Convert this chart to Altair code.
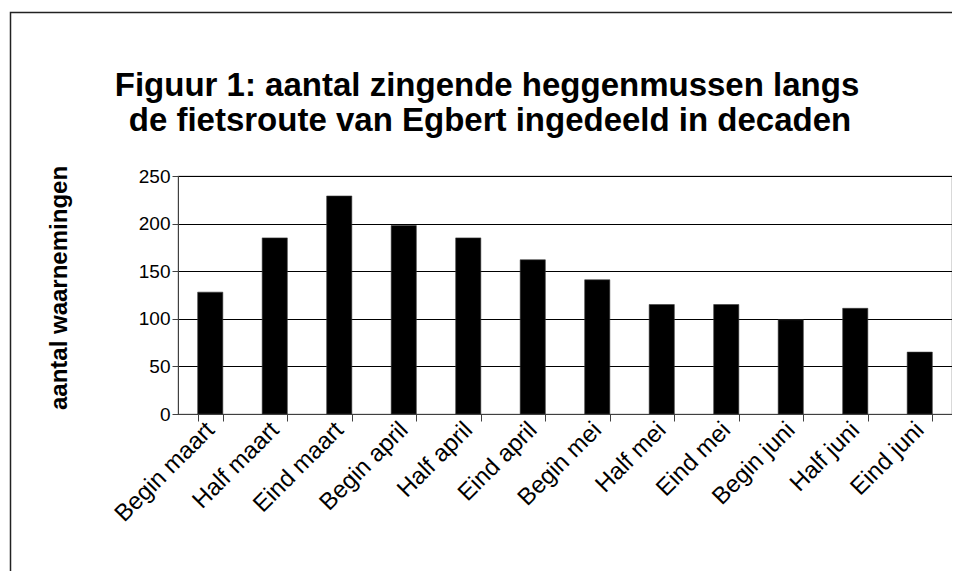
import altair as alt
import pandas as pd

categories = ["Begin maart", "Half maart", "Eind maart", "Begin april", "Half april",
              "Eind april", "Begin mei", "Half mei", "Eind mei", "Begin juni",
              "Half juni", "Eind juni"]
values = [128, 185, 229, 198, 185, 162, 141, 115, 115, 99, 111, 65]
y_ticks = [0, 50, 100, 150, 200, 250]
title_lines = ["Figuur 1: aantal zingende heggenmussen langs",
               "de fietsroute van Egbert ingedeeld in decaden"]
y_title = ["aantal waarnemingen"]

FONT = "Liberation Sans"
df = pd.DataFrame({"periode": categories, "aantal": values})

bars = alt.Chart(df).mark_bar(color="black", stroke="#3a3a3a", strokeWidth=0.6).encode(
    x=alt.X("periode:N", sort=categories,
            scale=alt.Scale(paddingInner=0.61, paddingOuter=0.305),
            axis=alt.Axis(title=None, labelAngle=-45, labelAlign="right",
                          labelBaseline="middle", labelFontSize=24, labelFont=FONT,
                          labelColor="black", tickBand="extent", tickSize=7,
                          tickColor="#404040", domainColor="#404040",
                          labelPadding=5, grid=False)),
    y=alt.Y("aantal:Q", scale=alt.Scale(domain=[0, 250], nice=False),
            axis=alt.Axis(title=None, values=y_ticks, grid=True, gridColor="black",
                          gridWidth=1, gridOpacity=1, labelFontSize=19, labelFont=FONT,
                          labelColor="black", tickSize=6, labelPadding=2,
                          tickColor="#404040", domainColor="#404040"))
)

border = alt.Chart(pd.DataFrame({"k": [0]})).mark_rect(
    fill="transparent", stroke="#222222", strokeWidth=1.5).encode(
    x=alt.value(-167.5), x2=alt.value(820), y=alt.value(-163.5), y2=alt.value(440))

t1 = alt.Chart(pd.DataFrame({"t": [title_lines[0]]})).mark_text(
    font=FONT, fontSize=33, fontWeight="bold", color="black",
    align="center", baseline="alphabetic").encode(
    text="t:N", x=alt.value(309), y=alt.value(-80))
t2 = alt.Chart(pd.DataFrame({"t": [title_lines[1]]})).mark_text(
    font=FONT, fontSize=33, fontWeight="bold", color="black",
    align="center", baseline="alphabetic").encode(
    text="t:N", x=alt.value(312), y=alt.value(-45))

yt = alt.Chart(pd.DataFrame({"t": y_title})).mark_text(
    font=FONT, fontSize=24, fontWeight="bold", color="black", angle=270,
    align="center", baseline="middle").encode(
    text="t:N", x=alt.value(-118), y=alt.value(112))

chart = alt.layer(border, bars, t1, t2, yt).properties(
    width=774, height=238,
    padding={"left": 170, "top": 168, "right": 0, "bottom": 157},
    autosize=alt.AutoSizeParams(type="none"),
    background="white",
).configure_view(stroke="#808080", strokeWidth=1.2)

chart.save("out.html", embed_options={"renderer": "svg", "actions": False})
